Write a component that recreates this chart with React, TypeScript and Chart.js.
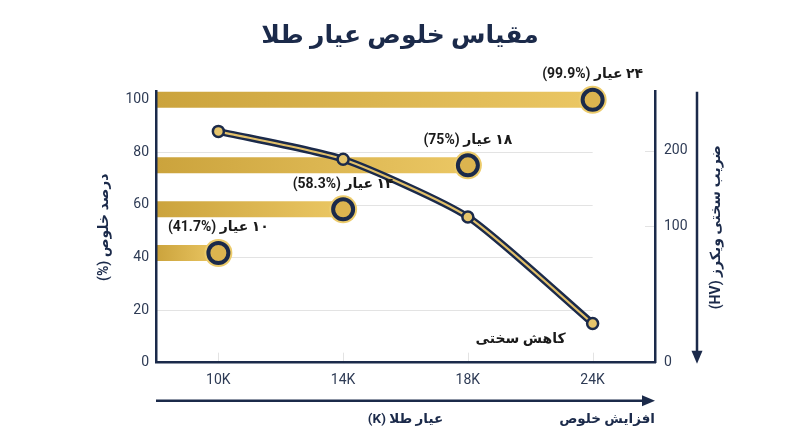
import { useEffect, useRef } from 'react';
import { Chart, registerables } from 'chart.js';

Chart.register(...registerables);

// karat categories and their Persian numerals
const categories = ['10K', '14K', '18K', '24K'];
const karatFa = ['۱۰', '۱۴', '۱۸', '۲۴'];

// gold purity (%) and Vickers hardness (HV)
const purity = [41.7, 58.3, 75, 99.9];
const hardness = [239, 185, 109, 41];

// tick values
const purityTicks = [0, 20, 40, 60, 80, 100];
const hardnessTicks = [100, 200];

const title = 'مقیاس خلوص عیار طلا';
const leftTitle = 'درصد خلوص (%)';
const rightTitle = 'ضریب سختی ویکرز (HV)';
const xTitle = 'عیار طلا (K)';
const xArrowText = 'افزایش خلوص';
const hardnessNote = 'کاهش سختی';
const purityLabels = purity.map((v, i) => `${karatFa[i]} عیار (%${v})`);

const NAVY = '#1b2a4a';
const TICK = '#2e3b55';
const GOLD_DARK = '#cba33c';
const GOLD_LIGHT = '#ebc764';
const HALO = '#eccb6b';
const FONT = "Roboto, 'DejaVu Sans', sans-serif";
const HV_MIN = 28.6;
const HV_MAX = 344;

const barGradient = (i: number) => (c: any) => {
  const chart = c.chart;
  const area = chart.chartArea;
  if (!area) return GOLD_DARK;
  const x1 = chart.scales.x.getPixelForValue(i);
  const g = chart.ctx.createLinearGradient(area.left, 0, x1, 0);
  g.addColorStop(0, GOLD_DARK);
  g.addColorStop(1, GOLD_LIGHT);
  return g;
};

const line = (ctx: CanvasRenderingContext2D, x0: number, y0: number, x1: number, y1: number) => {
  ctx.beginPath();
  ctx.moveTo(x0, y0);
  ctx.lineTo(x1, y1);
  ctx.stroke();
};

const decorPlugin = {
  id: 'decor',
  beforeDatasetsDraw(chart: any) {
    const { ctx, chartArea: a, scales: { x, y, y2 } } = chart;
    const xEnd = x.getPixelForValue(categories.length - 1);
    ctx.save();
    ctx.strokeStyle = '#e3e3e3';
    ctx.lineWidth = 1;
    purityTicks.slice(1).forEach((v) => {
      const py = Math.round(y.getPixelForValue(v)) + 0.5;
      line(ctx, a.left, py, xEnd, py);
    });
    hardnessTicks.forEach((v) => {
      const py = Math.round(y2.getPixelForValue(v)) + 0.5;
      line(ctx, a.right - 10, py, a.right, py);
    });
    categories.forEach((_, i) => {
      const px = Math.round(x.getPixelForValue(i)) + 0.5;
      line(ctx, px, a.bottom - 10, px, a.bottom);
    });
    ctx.restore();
  },
  afterDraw(chart: any) {
    const { ctx, chartArea: a, scales: { x, y, y2 } } = chart;
    ctx.save();
    ctx.direction = 'rtl';
    ctx.textBaseline = 'middle';

    // purity labels above the bar ends
    ctx.fillStyle = '#1a1a1a';
    ctx.font = `bold 14px ${FONT}`;
    ctx.textAlign = 'center';
    purity.forEach((v, i) => {
      ctx.fillText(purityLabels[i], x.getPixelForValue(i), y.getPixelForValue(v) - 25);
    });

    // note at the end of the hardness line
    const last = hardness.length - 1;
    ctx.textAlign = 'right';
    ctx.fillText(hardnessNote, x.getPixelForValue(last) - 27, y2.getPixelForValue(hardness[last]) + 16);

    // axis titles, both rotated the same way
    ctx.fillStyle = NAVY;
    ctx.font = `bold 14px ${FONT}`;
    ctx.textAlign = 'center';
    const midY = (a.top + a.bottom) / 2;
    ([[a.left - 52, leftTitle], [a.right + 61, rightTitle]] as [number, string][]).forEach(([tx, t]) => {
      ctx.save();
      ctx.translate(tx, midY);
      ctx.rotate(-Math.PI / 2);
      ctx.fillText(t, 0, 0);
      ctx.restore();
    });

    // arrows
    ctx.strokeStyle = NAVY;
    ctx.fillStyle = NAVY;
    ctx.lineWidth = 2.5;
    const ax = a.right + 42;
    line(ctx, ax, a.top, ax, a.bottom - 8);
    ctx.beginPath();
    ctx.moveTo(ax - 5.5, a.bottom - 12);
    ctx.lineTo(ax + 5.5, a.bottom - 12);
    ctx.lineTo(ax, a.bottom + 1);
    ctx.closePath();
    ctx.fill();

    const ay = a.bottom + 38;
    line(ctx, a.left, ay, a.right - 8, ay);
    ctx.beginPath();
    ctx.moveTo(a.right - 13, ay - 5.5);
    ctx.lineTo(a.right - 13, ay + 5.5);
    ctx.lineTo(a.right, ay);
    ctx.closePath();
    ctx.fill();

    ctx.font = `bold 13.5px ${FONT}`;
    ctx.textAlign = 'center';
    ctx.fillText(xTitle, (a.left + a.right) / 2, a.bottom + 57);
    ctx.textAlign = 'right';
    ctx.fillText(xArrowText, a.right, a.bottom + 57);
    ctx.restore();
  },
};

const tickFont = { family: FONT, size: 14 };
const axisBorder = { color: NAVY, width: 2.5, z: 1 };

const App = () => {
  const canvasRef = useRef<HTMLCanvasElement>(null);

  useEffect(() => {
    if (!canvasRef.current) return;
    const points = (vals: number[]) => vals.map((v, i) => ({ x: i, y: v }));

    const chart = new Chart(canvasRef.current, {
      type: 'line',
      data: {
        datasets: [
          ...purity.map((v, i) => ({
            data: [{ x: -0.5, y: v }, { x: i, y: v }],
            yAxisID: 'y',
            borderColor: barGradient(i),
            borderWidth: 16,
            borderCapStyle: 'butt',
            pointRadius: 0,
            order: 6,
            clip: false,
          })),
          {
            data: points(purity),
            yAxisID: 'y',
            showLine: false,
            pointRadius: 14,
            pointBackgroundColor: HALO,
            pointBorderWidth: 0,
            order: 5,
            clip: false,
          },
          {
            data: points(purity),
            yAxisID: 'y',
            showLine: false,
            pointRadius: 10,
            pointBackgroundColor: '#dcb44f',
            pointBorderColor: NAVY,
            pointBorderWidth: 4,
            order: 4,
            clip: false,
          },
          {
            data: points(hardness),
            yAxisID: 'y2',
            borderColor: NAVY,
            borderWidth: 7,
            pointRadius: 0,
            tension: 0.2,
            order: 2,
            clip: false,
          },
          {
            data: points(hardness),
            yAxisID: 'y2',
            borderColor: '#e2c06a',
            borderWidth: 2.2,
            pointRadius: 5.5,
            pointBackgroundColor: '#e5c46b',
            pointBorderColor: NAVY,
            pointBorderWidth: 2.5,
            tension: 0.2,
            order: 1,
            clip: false,
          },
        ] as any,
      },
      options: {
        animation: false,
        responsive: true,
        maintainAspectRatio: false,
        events: [],
        layout: { padding: 0 },
        plugins: {
          legend: { display: false },
          tooltip: { enabled: false },
          title: {
            display: true,
            text: title,
            color: NAVY,
            font: { family: FONT, size: 25, weight: 'bold' },
            padding: { top: 22, bottom: 39.7 },
          },
        },
        scales: {
          x: {
            type: 'linear',
            min: -0.5,
            max: 3.5,
            afterBuildTicks: (s: any) => {
              s.ticks = categories.map((_, i) => ({ value: i }));
            },
            afterFit: (s: any) => {
              s.height = 84.3;
            },
            ticks: {
              callback: (v: any) => categories[v] ?? '',
              color: TICK,
              font: tickFont,
              padding: 9,
              autoSkip: false,
              maxRotation: 0,
            },
            grid: { display: false, drawTicks: false },
            border: axisBorder,
          },
          y: {
            position: 'left',
            min: 0,
            max: 103,
            afterBuildTicks: (s: any) => {
              s.ticks = purityTicks.map((value) => ({ value }));
            },
            afterFit: (s: any) => {
              s.width = 156;
            },
            ticks: { color: TICK, font: tickFont, padding: 7 },
            grid: { display: false, drawTicks: false },
            border: axisBorder,
          },
          y2: {
            type: 'logarithmic',
            position: 'right',
            min: HV_MIN,
            max: HV_MAX,
            afterBuildTicks: (s: any) => {
              s.ticks = [HV_MIN, ...hardnessTicks].map((value) => ({ value }));
            },
            afterFit: (s: any) => {
              s.width = 145;
            },
            ticks: {
              callback: (v: any) => (v === HV_MIN ? '0' : String(v)),
              color: TICK,
              font: tickFont,
              padding: 9,
            },
            grid: { display: false, drawTicks: false },
            border: axisBorder,
          },
        },
      } as any,
      plugins: [decorPlugin],
    });

    return () => chart.destroy();
  }, []);

  return (
    <div style={{ position: 'absolute', left: 0, top: 0, width: 800, height: 447, background: '#fff' }}>
      <canvas ref={canvasRef} />
    </div>
  );
};

export default App;
